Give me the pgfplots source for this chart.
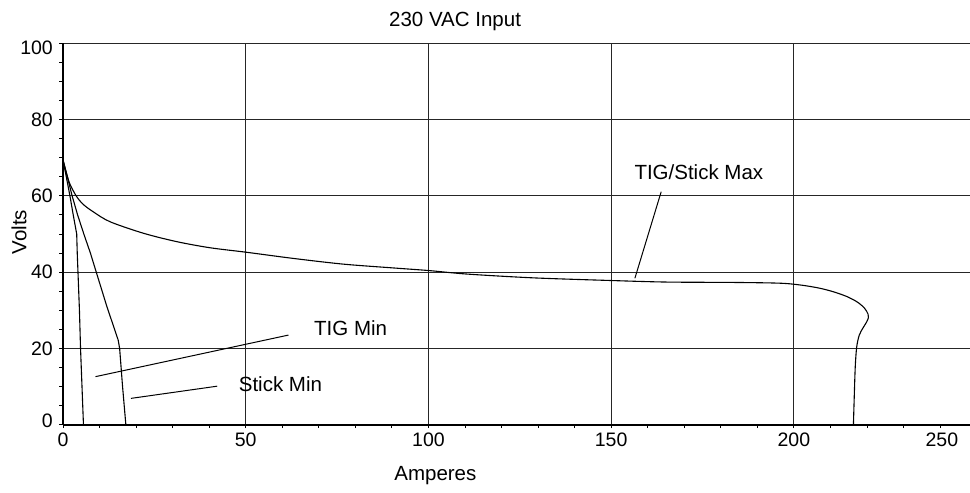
\documentclass[border=0pt]{standalone}
\usepackage{fontspec}
\setmainfont{Liberation Sans}
\usepackage{pgfplots}
\pgfplotsset{compat=1.18}

\newcommand{\ticklabfont}{\fontsize{19.5pt}{22pt}\selectfont}

\begin{document}
\fontsize{20.5pt}{24pt}\selectfont
\begin{tikzpicture}
\path[use as bounding box] (-63pt,-68.3pt) rectangle (907pt,424.7pt);
\begin{axis}[
  at={(0,0)}, anchor=south west,
  scale only axis, width=907pt, height=381.4pt,
  xmin=0, xmax=248.2, ymin=0, ymax=100,
  axis x line=bottom, axis y line=left,
  axis line style={-},
  x axis line style={line width=2pt},
  y axis line style={line width=1.4pt},
  xtick={0,50,...,200}, minor xtick={10,20,...,240},
  ytick={0,20,...,100}, minor ytick={5,10,...,95},
  yticklabels={,20,40,60,80,},
  tick align=outside,
  major tick length=3.5pt, minor tick length=3.5pt,
  every tick/.style={black, line width=0.9pt},
  xmajorgrids, ymajorgrids,
  major grid style={black!85, line width=1pt},
  /pgf/number format/assume math mode=true,
  xticklabel style={anchor=base, yshift=-18.5pt, inner sep=0pt, font=\ticklabfont},
  yticklabel style={anchor=east, xshift=-6.5pt, inner sep=0pt, font=\ticklabfont},
  clip=false,
]
% TIG/Stick maximum output curve
\addplot[black, line width=1.1pt, smooth, tension=0.5] coordinates {
  (0,69.4) (0.8,66.5) (1.8,63.3) (3.6,60) (5.5,57.8) (8.3,55.8) (12.9,53.2)
  (22,50.2) (31.1,48) (40.2,46.4) (50.3,45.2) (63,43.6) (76.7,42.1) (90.4,41.1)
  (100.3,40.4) (110.5,39.5) (128.7,38.5) (150.1,37.8) (165.2,37.4) (183.4,37.3)
  (196.2,37.1) (202,36.6) (207,35.8) (211,34.8) (214.5,33.6) (217.3,32.2)
  (219.3,30.6) (220.3,29.0) (220.4,28.1) (219.9,26.9) (219.0,25.5) (217.9,23.5)
  (217.2,20.4) (216.8,15.2) (216.5,6.5) (216.3,0)
};
% steep minimum curve
\addplot[black, line width=1.1pt] coordinates {
  (0,69.4) (0.9,65) (1.9,60) (2.8,55) (3.75,50) (3.9,45) (4.1,40) (4.5,30)
  (4.8,20) (5.2,10) (5.6,0)
};
% second minimum curve
\addplot[black, line width=1.1pt] coordinates {
  (0,69.4) (1.2,65) (2.5,60) (4,55) (5.7,50) (7.5,45) (9.2,39.7) (12,31)
  (15.1,22.2) (15.5,20) (16.3,10) (17.2,0)
};
% leader lines
\addplot[black, line width=1pt] coordinates {(163.7,61.1) (156.5,38.4)};
\addplot[black, line width=1pt] coordinates {(8.9,12.6) (61.7,23.5)};
\addplot[black, line width=1pt] coordinates {(18.6,6.9) (42.2,10.1)};

% curve names
\node[anchor=base] at (axis cs:174.0,64.4) {TIG/Stick Max};
\node[anchor=base] at (axis cs:78.7,23.3) {TIG Min};
\node[anchor=base] at (axis cs:59.5,8.8) {Stick Min};

% end tick labels, pulled inside the frame
\node[anchor=east, inner sep=0pt, font=\ticklabfont, xshift=-10pt, yshift=-4.5pt] at (axis cs:0,100) {100};
\node[anchor=east, inner sep=0pt, font=\ticklabfont, xshift=-10pt, yshift=3.9pt] at (axis cs:0,0) {0};
\node[anchor=base, inner sep=0pt, font=\ticklabfont, yshift=-22pt] at (axis cs:240.5,0) {250};

% titles
\node[anchor=base] at (axis cs:107.3,104.35) {230 VAC Input};
\node[anchor=base] at (axis cs:101.9,-14.76) {Amperes};
\node[rotate=90, anchor=center] at (axis cs:-12.04,50.5) {Volts};
\end{axis}
\end{tikzpicture}
\end{document}
